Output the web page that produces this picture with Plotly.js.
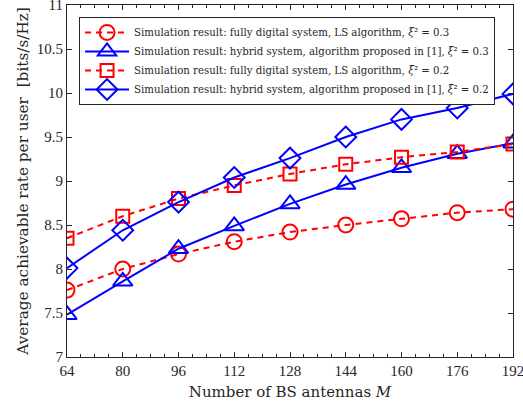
<!DOCTYPE html>
<html><head><meta charset="utf-8">
<script src="https://cdn.plot.ly/plotly-3.0.1.min.js"></script>
<style>body{margin:0;background:#fff}#c{width:523px;height:410px}</style>
</head><body><div id="c"></div>
<script>
const antennas = [64, 80, 96, 112, 128, 144, 160, 176, 192];
const digitalLS03 = [7.76, 8.00, 8.17, 8.31, 8.42, 8.50, 8.57, 8.64, 8.68];
const hybrid03 = [7.48, 7.86, 8.23, 8.49, 8.74, 8.96, 9.15, 9.31, 9.43];
const digitalLS02 = [8.35, 8.60, 8.80, 8.95, 9.08, 9.19, 9.27, 9.33, 9.42];
const hybrid02 = [8.01, 8.44, 8.76, 9.04, 9.26, 9.50, 9.70, 9.83, 9.99];
const names = [
  'Simulation result: fully digital system, LS algorithm, <i>ξ</i>² = 0.3',
  'Simulation result: hybrid system, algorithm proposed in [1], <i>ξ</i>² = 0.3',
  'Simulation result: fully digital system, LS algorithm, <i>ξ</i>² = 0.2',
  'Simulation result: hybrid system, algorithm proposed in [1], <i>ξ</i>² = 0.2'
];
const red = '#ff0000', blue = '#0000ff';
function tr(y, name, color, dash, symbol, size) {
  return {x: antennas, y: y, name: name, type: 'scatter', mode: 'lines+markers',
    line: {color: color, width: 2, dash: dash},
    marker: {symbol: symbol, size: size, color: color, line: {color: color, width: 2}}};
}
const data = [
  tr(digitalLS03, names[0], red, '6px,5px', 'circle-open', 15),
  tr(hybrid03, names[1], blue, 'solid', 'triangle-up-open', 17),
  tr(digitalLS02, names[2], red, '6px,5px', 'square-open', 13),
  tr(hybrid02, names[3], blue, 'solid', 'diamond-open', 16)
];
const fam = "'Liberation Serif', 'Times New Roman', serif";
const fam2 = "'DejaVu Serif', serif";
const layout = {
  width: 523, height: 410,
  margin: {l: 67, r: 10, t: 5, b: 53, autoexpand: false},
  paper_bgcolor: '#fff', plot_bgcolor: '#fff',
  font: {family: fam, color: '#262626'},
  showlegend: true,
  legend: {x: 0.027, y: 0.966, xanchor: 'left', yanchor: 'top',
    bordercolor: '#262626', borderwidth: 1, bgcolor: '#fff',
    font: {family: fam2, size: 10.2, color: '#262626'},
    itemwidth: 44, tracegroupgap: 0},
  xaxis: {range: [64, 192], tickvals: antennas, ticks: 'inside', ticklen: 5,
    tickcolor: '#262626', showline: true, linecolor: '#262626', linewidth: 1, mirror: 'ticks',
    showgrid: false, zeroline: false, tickfont: {family: fam, size: 15},
    ticklabeloverflow: 'allow',
    minor: {dtick: 4, tick0: 64, ticks: 'inside', ticklen: 3, tickcolor: '#262626'},
    title: {text: 'Number of BS antennas <i>M</i>', font: {family: fam2, size: 15}, standoff: 8}},
  yaxis: {range: [7, 11], dtick: 0.5, ticks: 'inside', ticklen: 5,
    tickcolor: '#262626', showline: true, linecolor: '#262626', linewidth: 1, mirror: 'ticks',
    showgrid: false, zeroline: false, tickfont: {family: fam, size: 15},
    ticklabeloverflow: 'allow',
    title: {text: 'Average achievable rate per user  [bits/s/Hz]', font: {family: fam2, size: 15.3}, standoff: 4}}
};
Plotly.newPlot('c', data, layout, {displayModeBar: false, staticPlot: true});
</script></body></html>
